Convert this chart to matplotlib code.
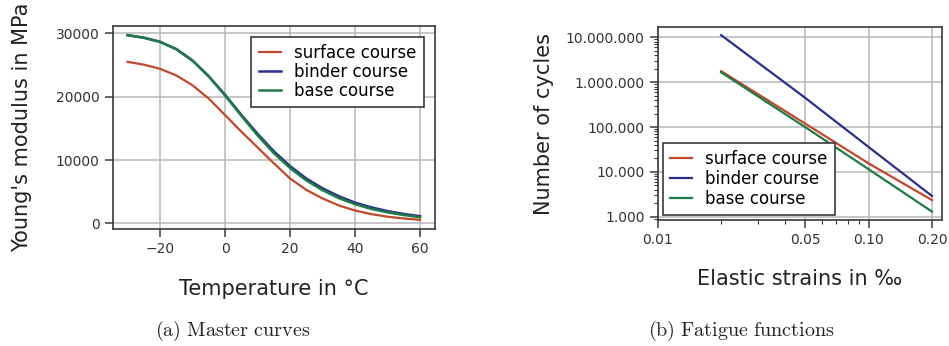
import numpy as np
import matplotlib
matplotlib.use("Agg")
import matplotlib.pyplot as plt
from matplotlib.ticker import FixedLocator, FuncFormatter, LogLocator, NullFormatter

plt.rcParams['mathtext.fontset'] = 'cm'
plt.rcParams['font.family'] = ['DejaVu Sans']

# master curves
temp = [-30, -25, -20, -15, -10, -5, 0, 5, 10, 15, 20, 25, 30, 35, 40, 45, 50, 55, 60]
e_surface = [25500, 25050, 24400, 23350, 21800, 19700, 17100, 14500, 12000, 9500, 7100,
             5300, 3950, 2850, 2050, 1480, 1070, 790, 580]
e_binder = [29700, 29300, 28650, 27500, 25700, 23200, 20300, 17150, 14150, 11400, 9050,
            7100, 5550, 4300, 3300, 2550, 1950, 1500, 1150]
e_base = [29700, 29300, 28650, 27500, 25700, 23200, 20200, 17000, 13900, 11100, 8750,
          6800, 5250, 4000, 3050, 2300, 1750, 1330, 1000]

# fatigue functions
strain = [0.02, 0.05, 0.10, 0.20]
n_surface = [1.76e6, 1.2e5, 1.55e4, 2.35e3]
n_binder = [1.12e7, 4.5e5, 3.6e4, 2.9e3]
n_base = [1.66e6, 1.0e5, 1.15e4, 1.3e3]

labels = ['surface course', 'binder course', 'base course']
colors = ['#c4472b', '#2b2f8c', '#1e7b45']

fig = plt.figure(figsize=(9.49, 3.46), dpi=100)
ax1 = fig.add_axes([0.119, 0.338, 0.339, 0.587])
ax2 = fig.add_axes([0.693, 0.364, 0.300, 0.558])

spine_c = '#3a3a3a'
grid_c = '#b8b8b8'

for ax in (ax1, ax2):
    for s in ax.spines.values():
        s.set_color(spine_c)
        s.set_linewidth(1.2)
    ax.tick_params(which='major', direction='out', length=6, width=1.1, color=spine_c,
                   labelsize=10, labelcolor='#333333')
    ax.tick_params(which='minor', direction='out', length=3, width=0.8, color=spine_c)
    ax.grid(True, which='major', color=grid_c, linewidth=1.1)
    ax.set_axisbelow(True)

# (a)
ax1.plot(temp, e_surface, color=colors[0], lw=1.6, label=labels[0])
ax1.plot(temp, e_binder, color=colors[1], lw=1.8, label=labels[1])
ax1.plot(temp, e_base, color=colors[2], lw=1.8, label=labels[2])
ax1.set_xticks([-20, 0, 20, 40, 60])
ax1.set_yticks([0, 10000, 20000, 30000])
ax1.set_xlabel('Temperature in °C', fontsize=15, color='#222222')
ax1.set_ylabel("Young's modulus in MPa", fontsize=15, color='#222222')
ax1.xaxis.set_label_coords(0.5, -0.245)
ax1.yaxis.set_label_coords(-0.25, 0.5)
leg1 = ax1.legend(loc='upper right', fontsize=12, fancybox=False, framealpha=1,
                  edgecolor=spine_c, handlelength=1.3, borderpad=0.45, labelspacing=0.05,
                  borderaxespad=0.65)
leg1.get_frame().set_linewidth(1.2)

# (b)
ax2.plot(strain, n_surface, color=colors[0], lw=1.6, label=labels[0])
ax2.plot(strain, n_binder, color=colors[1], lw=1.6, label=labels[1])
ax2.plot(strain, n_base, color=colors[2], lw=1.6, label=labels[2])
ax2.set_xscale('log')
ax2.set_yscale('log')
ax2.set_xlim(0.01, 0.224)
ax2.set_ylim(843, 1.7e7)
ax2.xaxis.set_major_locator(FixedLocator([0.01, 0.05, 0.10, 0.20]))
ax2.xaxis.set_major_formatter(FuncFormatter(lambda v, p: f'{v:.2f}'))
ax2.xaxis.set_minor_locator(LogLocator(base=10, subs=np.arange(2, 10)))
ax2.xaxis.set_minor_formatter(NullFormatter())
ax2.yaxis.set_major_locator(FixedLocator([1e3, 1e4, 1e5, 1e6, 1e7]))
ax2.yaxis.set_major_formatter(FuncFormatter(lambda v, p: f'{int(round(v)):,}'.replace(',', '.')))
ax2.yaxis.set_minor_locator(LogLocator(base=10, subs=np.arange(2, 10)))
ax2.yaxis.set_minor_formatter(NullFormatter())
ax2.set_xlabel('Elastic strains in ‰', fontsize=15, color='#222222')
ax2.set_ylabel('Number of cycles', fontsize=15, color='#222222')
ax2.xaxis.set_label_coords(0.5, -0.255)
ax2.yaxis.set_label_coords(-0.365, 0.5)
leg2 = ax2.legend(loc='lower left', fontsize=12, fancybox=False, framealpha=1,
                  edgecolor=spine_c, handlelength=1.3, borderpad=0.45, labelspacing=0.1,
                  borderaxespad=0.3)
leg2.get_frame().set_linewidth(1.2)

fig.text(0.245, 0.03, r'$\mathrm{(a)\ Master\ curves}$', ha='center', va='baseline',
         fontsize=14.5, color='#222222')
fig.text(0.781, 0.03, r'$\mathrm{(b)\ Fatigue\ functions}$', ha='center', va='baseline',
         fontsize=14.5, color='#222222')

fig.savefig('out.png', dpi=100)
